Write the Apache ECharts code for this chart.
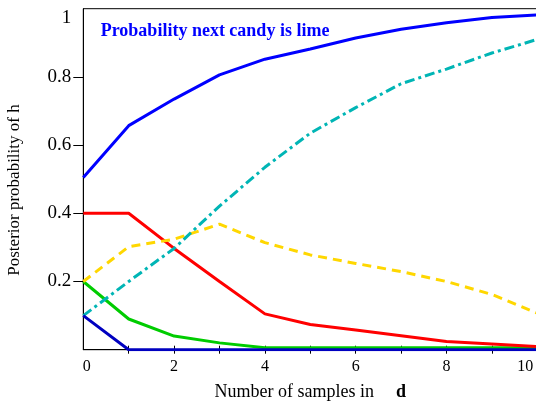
<!DOCTYPE html>
<html>
<head>
<meta charset="utf-8">
<script src="https://cdn.jsdelivr.net/npm/echarts@6/dist/echarts.min.js"></script>
<style>
html,body{margin:0;padding:0;background:#fff;}
#c{width:536px;height:403px;}
</style>
</head>
<body>
<div id="c"></div>
<script>
var samples = [0,1,2,3,4,5,6,7,8,9,10];
var pLime = [0.505,0.657,0.735,0.806,0.852,0.882,0.914,0.94,0.959,0.974,0.982];
var h1 = [0.1,0,0,0,0,0,0,0,0,0,0];
var h2 = [0.2,0.09,0.04,0.02,0.006,0.006,0.006,0.006,0.006,0.006,0.006];
var h3 = [0.4,0.4,0.297,0.2,0.105,0.074,0.058,0.041,0.024,0.017,0.009];
var h4 = [0.2,0.302,0.324,0.368,0.314,0.278,0.253,0.229,0.2,0.162,0.107];
var h5 = [0.1,0.2,0.297,0.421,0.535,0.635,0.71,0.78,0.823,0.87,0.91];
var xTickLabels = [0,2,4,6,8,10];
var yTickLabels = [0.2,0.4,0.6,0.8,1];
var yTicks = [0.2,0.4,0.6,0.8];
var xTicks = [1,2,3,4,5,6,7,8,9,10];
var titleText = 'Probability next candy is lime';
var yTitle = 'Posterior probability of h';

var FONT = '"Liberation Serif","DejaVu Serif",serif';
function pairs(arr){ return samples.map(function(s,i){ return [s, arr[i]]; }); }

var chart = echarts.init(document.getElementById('c'), null, {renderer:'canvas'});
chart.setOption({
  animation: false,
  backgroundColor: '#fff',
  grid: {left: 83.3, top: 8.7, right: -1.3, bottom: 53.3, outerBoundsMode: 'none', containLabel: false,
         show: true, borderColor: '#000', borderWidth: 1, backgroundColor: 'transparent'},
  xAxis: [{
    type: 'value', min: 0, max: 10, interval: 1,
    splitLine: {show: false},
    axisLine: {show: true, onZero: false, lineStyle: {color: '#000', width: 1}},
    axisTick: {show: true, inside: false, length: 4, customValues: xTicks, lineStyle: {color: '#000'}},
    axisLabel: {show: true, customValues: xTickLabels, margin: 9, color: '#000', fontFamily: FONT, fontSize: 16,
      formatter: function(v){
        if (v === xTickLabels[0]) return '{first|' + v + '}';
        if (v === xTickLabels[xTickLabels.length-1]) return '{last|' + v + '}';
        return String(v);
      },
      rich: {
        first: {fontFamily: FONT, fontSize: 16, color: '#000', padding: [0,0,0,7]},
        last: {fontFamily: FONT, fontSize: 16, color: '#000', padding: [0,24,0,0]}
      }
    },
    name: 'Number of samples in{b|d}',
    nameLocation: 'middle', nameGap: 34,
    nameTextStyle: {color: '#000', fontFamily: FONT, fontSize: 18,
      rich: {b: {fontFamily: FONT, fontSize: 18, fontWeight: 'bold', color: '#000', padding: [0,0,0,22]}}}
  },{
    type: 'value', min: 0, max: 10, interval: 1, position: 'bottom',
    splitLine: {show: false},
    axisLine: {show: false, onZero: false},
    axisTick: {show: true, inside: true, length: 4, customValues: xTicks, lineStyle: {color: '#000'}},
    axisLabel: {show: false}
  }],
  yAxis: {
    type: 'value', min: 0, max: 1, interval: 0.2,
    splitLine: {show: false},
    axisLine: {show: true, onZero: false, lineStyle: {color: '#000', width: 1}},
    axisTick: {show: true, inside: false, length: 10, customValues: yTicks, lineStyle: {color: '#000'}},
    axisLabel: {show: true, customValues: yTickLabels, margin: 12, color: '#000', fontFamily: FONT, fontSize: 19, verticalAlignMaxLabel: 'top'}
  },
  graphic: [
    {type: 'text', x: 15, y: 190, rotation: Math.PI/2,
     style: {text: yTitle, fill: '#000', font: '17px ' + FONT, align: 'center', verticalAlign: 'middle'}},
    {type: 'text', x: 100.7, y: 31,
     style: {text: titleText, fill: '#0000ff', font: 'bold 18px ' + FONT, align: 'left', verticalAlign: 'middle'}}
  ],
  series: [
    {type: 'line', data: pairs(h2), symbol: 'none', lineStyle: {color: '#00cc00', width: 3}, z: 2},
    {type: 'line', data: pairs(h3), symbol: 'none', lineStyle: {color: '#ff0000', width: 3}, z: 3},
    {type: 'line', data: pairs(h4), symbol: 'none', lineStyle: {color: '#ffd700', width: 3, type: [9,6]}, z: 3},
    {type: 'line', data: pairs(h5), symbol: 'none', lineStyle: {color: '#00b5b5', width: 3, type: [10,4,3,4]}, z: 3},
    {type: 'line', data: pairs(h1), symbol: 'none', lineStyle: {color: '#0000c0', width: 3}, z: 4},
    {type: 'line', data: pairs(pLime), symbol: 'none', lineStyle: {color: '#0000ff', width: 3}, z: 4}
  ]
});
</script>
</body>
</html>
